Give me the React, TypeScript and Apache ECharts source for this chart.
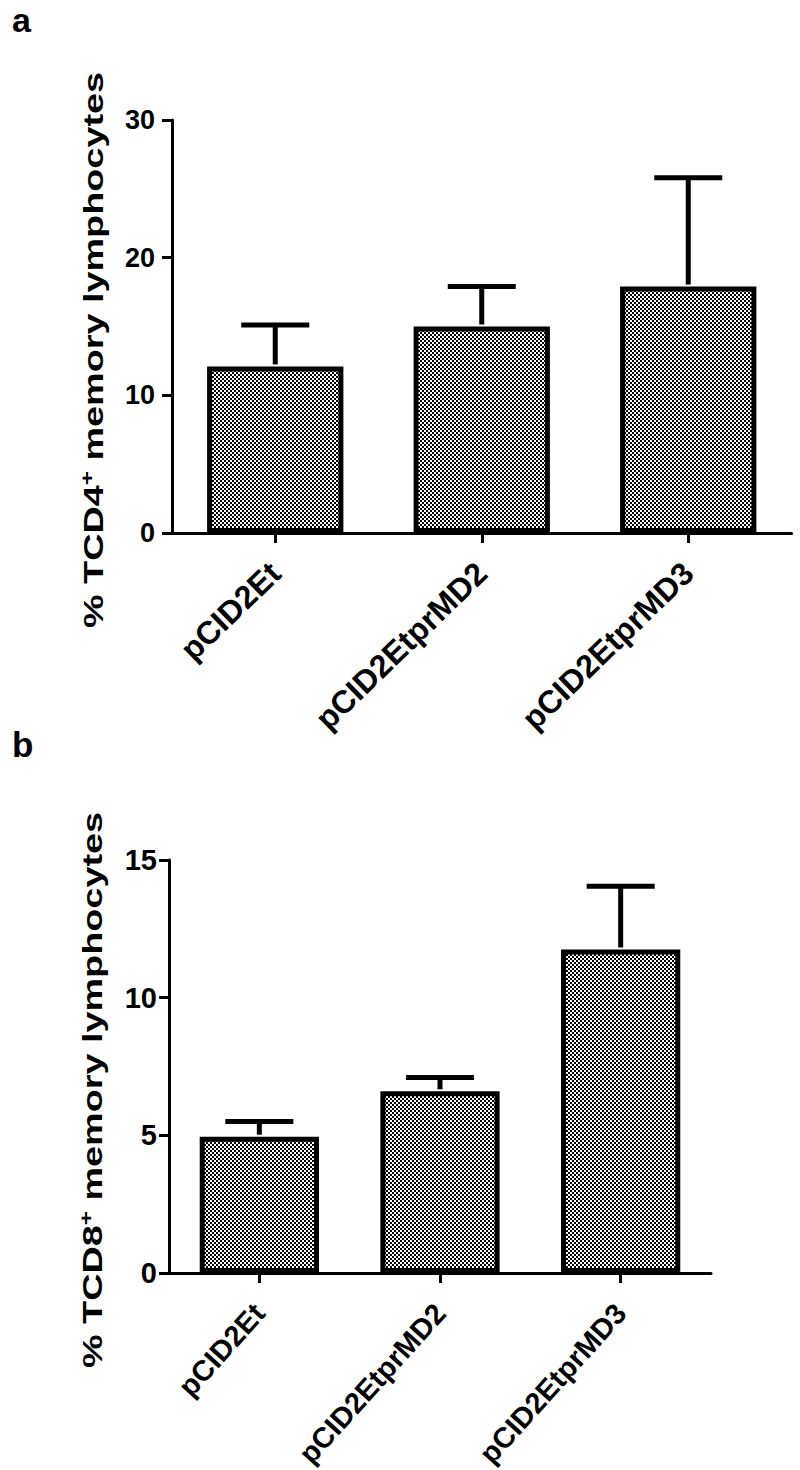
import React, { useEffect, useRef } from "react";
import * as echarts from "echarts";

const categories = ["pCID2Et", "pCID2EtprMD2", "pCID2EtprMD3"];
const cd4Means = [12.1, 15.0, 17.9];
const cd4Upper = [15.1, 17.9, 25.8];
const cd8Means = [4.95, 6.6, 11.75];
const cd8Upper = [5.5, 7.1, 14.05];
const cd4Ticks = { min: 0, max: 30, interval: 10 };
const cd8Ticks = { min: 0, max: 15, interval: 5 };

const FONT = "'Liberation Sans', Arial, Helvetica, sans-serif";

function makePattern() {
  const c = document.createElement("canvas");
  c.width = 4;
  c.height = 4;
  const ctx = c.getContext("2d")!;
  ctx.fillStyle = "#ffffff";
  ctx.fillRect(0, 0, 4, 4);
  ctx.fillStyle = "#000000";
  ctx.fillRect(0, 0, 2, 2);
  ctx.fillRect(2, 2, 2, 2);
  return c;
}

export default function App() {
  const ref = useRef<HTMLDivElement>(null);
  useEffect(() => {
    if (!ref.current) return;
    const chart = echarts.init(ref.current, null, { renderer: "svg" });
    const canvas = makePattern();
    const pattern: any = { image: canvas, repeat: "repeat", imageWidth: 4, imageHeight: 4 };

    const axisLineStyle = { color: "#000", width: 3 };
    const yAxisBase = (idx: number, t: any, fontSize: number, margin: number) => ({
      type: "value",
      gridIndex: idx,
      min: t.min,
      max: t.max,
      interval: t.interval,
      splitLine: { show: false },
      axisLine: { show: true, lineStyle: axisLineStyle },
      axisTick: { show: true, length: 10, lineStyle: axisLineStyle },
      axisLabel: {
        margin,
        color: "#000",
        fontSize,
        fontWeight: "bold",
        fontFamily: FONT,
      },
    });
    const xAxisBase = (idx: number, rotate: number, fontSize: number) => ({
      type: "category",
      gridIndex: idx,
      data: categories,
      axisLine: { show: true, lineStyle: axisLineStyle },
      axisTick: { show: true, alignWithLabel: true, length: 10, lineStyle: axisLineStyle },
      axisLabel: {
        rotate,
        margin: 35,
        color: "#000",
        fontSize,
        fontWeight: "bold",
        fontFamily: FONT,
        interval: 0,
      },
    });

    const errRender = (params: any, api: any) => {
      const x = api.value(0);
      const p0 = api.coord([x, api.value(1)]);
      const p1 = api.coord([x, api.value(2)]);
      const half = 34;
      const style = { stroke: "#000", lineWidth: 5 };
      return {
        type: "group",
        children: [
          { type: "line", shape: { x1: p0[0], y1: p0[1] - 2, x2: p1[0], y2: p1[1] }, style },
          { type: "line", shape: { x1: p1[0] - half, y1: p1[1], x2: p1[0] + half, y2: p1[1] }, style },
        ],
      };
    };

    const barSeries = (idx: number, vals: number[]) => ({
      type: "bar",
      xAxisIndex: idx,
      yAxisIndex: idx,
      data: vals,
      barWidth: "66%",
      itemStyle: { color: pattern, borderColor: "#000", borderWidth: 5 },
      z: 2,
    });
    const errSeries = (idx: number, means: number[], upper: number[]) => ({
      type: "custom",
      xAxisIndex: idx,
      yAxisIndex: idx,
      data: means.map((m, i) => [i, m, upper[i]]),
      encode: { x: 0, y: [1, 2] },
      renderItem: errRender,
      z: 3,
    });

    const titleText = (x: number, y: number, label: string) => ({
      type: "text",
      x,
      y,
      rotation: Math.PI / 2,
      scaleX: 1.35,
      style: {
        x: 0,
        y: 0,
        text: `{a|% TCD${label}}{s|+}{a| memory lymphocytes}`,
        align: "center",
        verticalAlign: "middle",
        fill: "#000",
        rich: {
          a: { fontSize: 28, fontWeight: "bold", fontFamily: FONT, fill: "#000", lineHeight: 30 },
          s: { fontSize: 18, fontWeight: "bold", fontFamily: FONT, fill: "#000", verticalAlign: "top", lineHeight: 30 },
        },
      },
    });

    chart.setOption({
      animation: false,
      backgroundColor: "#fff",
      grid: [
        { left: 172, top: 120, width: 619.5, height: 413, outerBoundsMode: "none", containLabel: false },
        { left: 169, top: 860, width: 542, height: 413, outerBoundsMode: "none", containLabel: false },
      ],
      xAxis: [xAxisBase(0, 44, 32), xAxisBase(1, 48, 29)],
      yAxis: [yAxisBase(0, cd4Ticks, 27, 17), yAxisBase(1, cd8Ticks, 29, 12)],
      series: [
        barSeries(0, cd4Means),
        errSeries(0, cd4Means, cd4Upper),
        barSeries(1, cd8Means),
        errSeries(1, cd8Means, cd8Upper),
      ],
      graphic: [
        {
          type: "text",
          left: 12,
          top: 3,
          style: { text: "a", fontSize: 34, fontWeight: "bold", fontFamily: FONT, fill: "#000" },
        },
        {
          type: "text",
          left: 12,
          top: 727,
          style: { text: "b", fontSize: 35, fontWeight: "bold", fontFamily: FONT, fill: "#000" },
        },
        titleText(93, 350, "4"),
        titleText(92, 1090, "8"),
      ],
    });
    return () => chart.dispose();
  }, []);
  return (
    <div
      ref={ref}
      style={{ position: "absolute", left: 0, top: 0, width: 800, height: 1470, background: "#fff" }}
    />
  );
}
